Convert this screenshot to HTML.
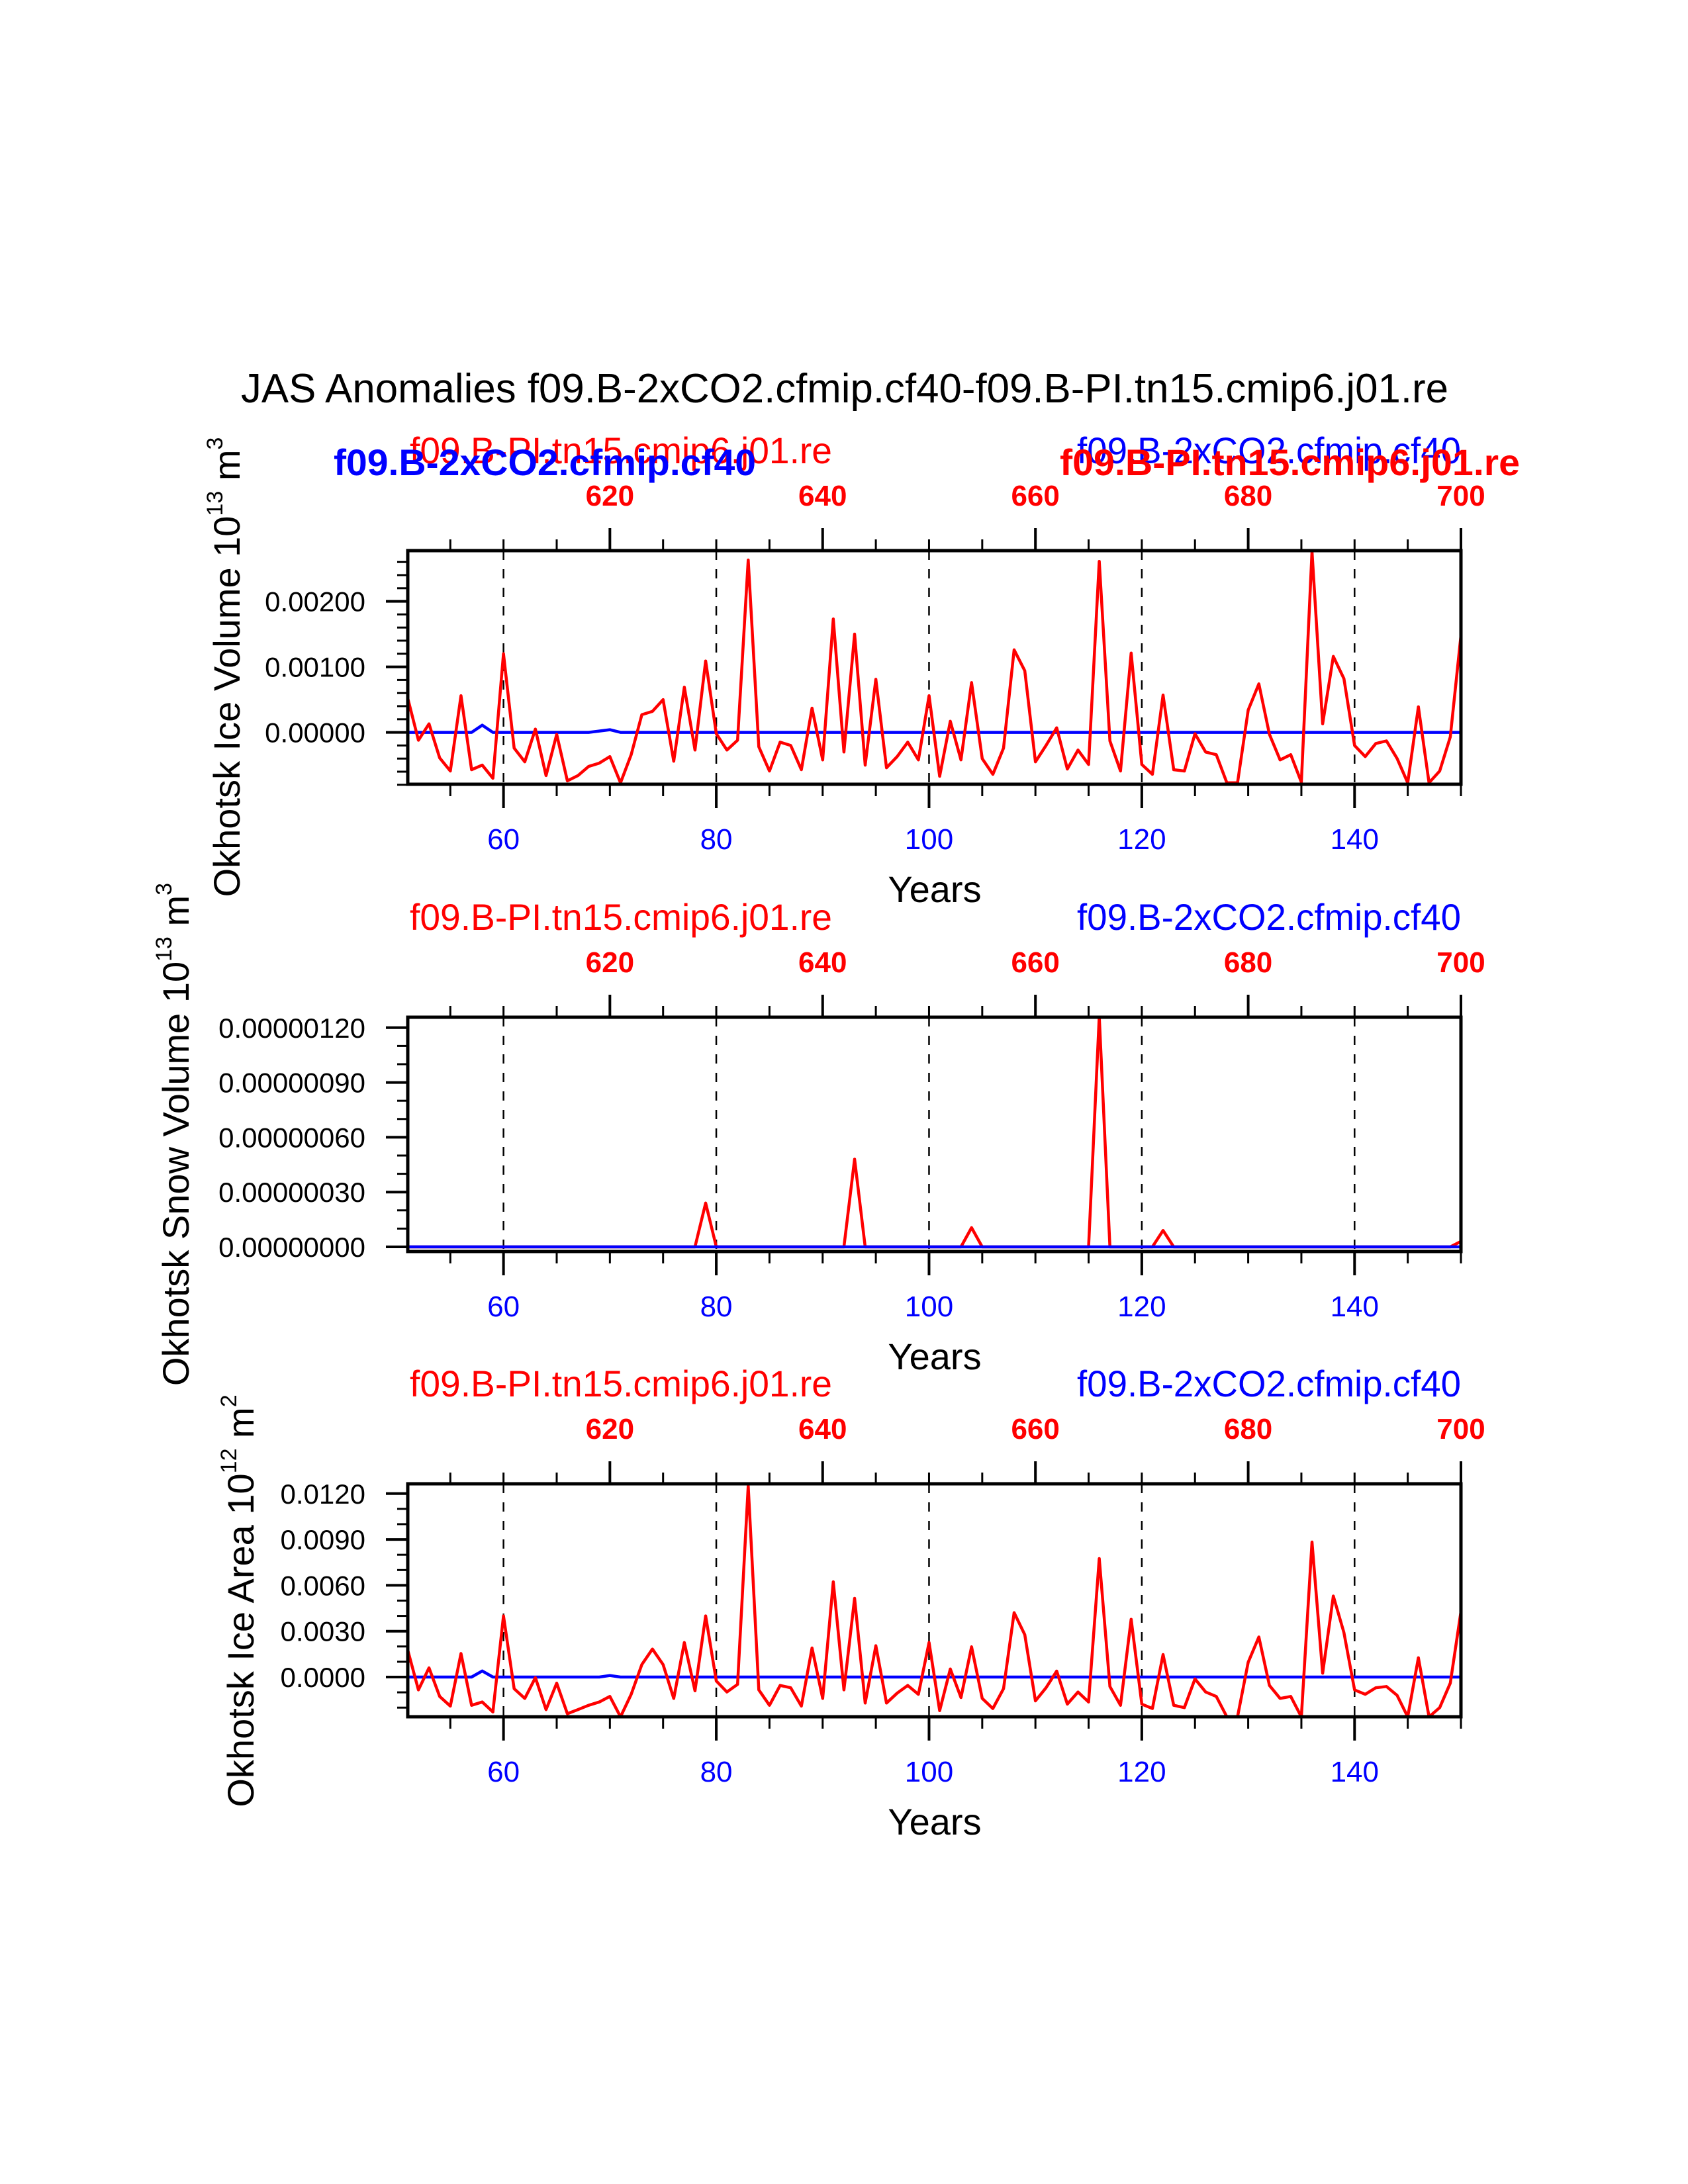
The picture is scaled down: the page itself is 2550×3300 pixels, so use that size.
<!DOCTYPE html>
<html><head><meta charset="utf-8"><style>
html,body{margin:0;padding:0;background:#fff;}
svg{display:block;}
text{font-family:"Liberation Sans",Arial,Helvetica,sans-serif;}
</style></head><body>
<svg id="s" xmlns="http://www.w3.org/2000/svg" width="2550" height="3300" viewBox="0 0 2550 3300">
<rect width="2550" height="3300" fill="#fff"/>
<text x="1276" y="608" font-size="62" text-anchor="middle" textLength="1824" lengthAdjust="spacingAndGlyphs">JAS Anomalies f09.B-2xCO2.cfmip.cf40-f09.B-PI.tn15.cmip6.j01.re</text>

<text x="619" y="700" font-size="56" fill="#f00" textLength="638" lengthAdjust="spacingAndGlyphs">f09.B-PI.tn15.cmip6.j01.re</text>
<text x="504" y="718" font-size="56" font-weight="bold" fill="#00f" textLength="638" lengthAdjust="spacingAndGlyphs">f09.B-2xCO2.cfmip.cf40</text>
<text x="2207" y="700" font-size="56" fill="#00f" text-anchor="end" textLength="580" lengthAdjust="spacingAndGlyphs">f09.B-2xCO2.cfmip.cf40</text>
<text x="1601" y="718" font-size="56" font-weight="bold" fill="#f00" textLength="695" lengthAdjust="spacingAndGlyphs">f09.B-PI.tn15.cmip6.j01.re</text>
<text x="619" y="1405" font-size="56" fill="#f00" textLength="638" lengthAdjust="spacingAndGlyphs">f09.B-PI.tn15.cmip6.j01.re</text>
<text x="2207" y="1405" font-size="56" fill="#00f" text-anchor="end" textLength="580" lengthAdjust="spacingAndGlyphs">f09.B-2xCO2.cfmip.cf40</text>
<text x="619" y="2110" font-size="56" fill="#f00" textLength="638" lengthAdjust="spacingAndGlyphs">f09.B-PI.tn15.cmip6.j01.re</text>
<text x="2207" y="2110" font-size="56" fill="#00f" text-anchor="end" textLength="580" lengthAdjust="spacingAndGlyphs">f09.B-2xCO2.cfmip.cf40</text>

<text transform="translate(362,1008) rotate(-90)" font-size="56" text-anchor="middle">Okhotsk Ice Volume 10<tspan font-size="34" dy="-26">13</tspan><tspan dy="26"> m</tspan><tspan font-size="34" dy="-26">3</tspan></text>
<text transform="translate(285,1714) rotate(-90)" font-size="56" text-anchor="middle">Okhotsk Snow Volume 10<tspan font-size="34" dy="-26">13</tspan><tspan dy="26"> m</tspan><tspan font-size="34" dy="-26">3</tspan></text>
<text transform="translate(383,2419) rotate(-90)" font-size="56" text-anchor="middle">Okhotsk Ice Area 10<tspan font-size="34" dy="-26">12</tspan><tspan dy="26"> m</tspan><tspan font-size="34" dy="-26">2</tspan></text>

<g id="g"></g>
</svg>
<script>
(function(){
var NS="http://www.w3.org/2000/svg",g=document.getElementById("g");
function el(t,a,txt){var e=document.createElementNS(NS,t);for(var k in a)e.setAttribute(k,a[k]);if(txt!==undefined)e.textContent=txt;g.appendChild(e);return e;}
var L=616,R=2207;function X(y){return L+(y-51)*(R-L)/99;}
var red1=[0.00052,-0.00012,0.00013,-0.00039,-0.00059,0.00056,-0.00057,-0.0005,-0.0007,0.0012,-0.00024,-0.00045,0.00005,-0.00066,-0.00003,-0.00074,-0.00066,-0.00052,-0.00047,-0.00037,-0.00077,-0.00034,0.00027,0.00032,0.0005,-0.00044,0.00069,-0.00027,0.00109,-0.00002,-0.00027,-0.00012,0.00263,-0.00022,-0.00059,-0.00015,-0.0002,-0.00057,0.00037,-0.00042,0.00173,-0.0003,0.0015,-0.0005,0.00081,-0.00054,-0.00037,-0.00015,-0.00042,0.00056,-0.00067,0.00017,-0.00042,0.00076,-0.0004,-0.00064,-0.00024,0.00126,0.00094,-0.00045,-0.0002,0.00007,-0.00056,-0.00027,-0.00049,0.00261,-0.00013,-0.00059,0.00121,-0.00049,-0.00064,0.00057,-0.00057,-0.00059,-0.00002,-0.0003,-0.00034,-0.00077,-0.00077,0.00034,0.00074,-0.00003,-0.00042,-0.00034,-0.00076,0.00276,0.00013,0.00116,0.00082,-0.0002,-0.00037,-0.00017,-0.00013,-0.0004,-0.00077,0.00039,-0.00077,-0.00059,-0.00007,0.00148];
var red3=[0.00176,-0.00084,0.0006,-0.00127,-0.0019,0.00154,-0.00185,-0.00163,-0.00228,0.004,-0.00076,-0.0014,-0.00004,-0.00213,-0.0004,-0.0024,-0.00213,-0.00185,-0.00163,-0.00127,-0.0026,-0.00113,0.00082,0.00183,0.00082,-0.0014,0.00226,-0.0009,0.004,-0.00026,-0.00098,-0.00048,0.0125,-0.00084,-0.00185,-0.00055,-0.0007,-0.0019,0.0019,-0.0014,0.00623,-0.00084,0.00515,-0.0017,0.00205,-0.0017,-0.00105,-0.00055,-0.00113,0.00226,-0.0022,0.00053,-0.00134,0.00198,-0.0014,-0.00206,-0.00076,0.00421,0.00277,-0.00156,-0.0007,0.00039,-0.00177,-0.00098,-0.00163,0.00775,-0.00062,-0.00185,0.00378,-0.00177,-0.00206,0.00147,-0.00185,-0.002,-0.00012,-0.00098,-0.00127,-0.0026,-0.0026,0.00097,0.00262,-0.00055,-0.0014,-0.00127,-0.0026,0.00883,0.00025,0.0053,0.00291,-0.00084,-0.00113,-0.0007,-0.00062,-0.0012,-0.0026,0.00126,-0.0026,-0.002,-0.0004,0.00428];
var red2=[];for(var i=0;i<100;i++)red2.push(0);
red2[79-51]=0.24e-6;red2[93-51]=0.48e-6;red2[104-51]=0.105e-6;red2[116-51]=1.26e-6;red2[122-51]=0.09e-6;red2[150-51]=0.03e-6;
var blue1=[],blue2=[],blue3=[];for(i=0;i<100;i++){blue1.push(0);blue2.push(0);blue3.push(0);}
blue1[58-51]=0.00011;blue1[69-51]=0.00002;blue1[70-51]=0.00004;
blue3[58-51]=0.0004;blue3[70-51]=0.0001;
var P=[
 {top:832,bot:1185,z:1106.6,k:99000,maj:[0,0.001,0.002],lab:["0.00000","0.00100","0.00200"],minStep:0.0002,minFrom:-0.0008,minTo:0.0028,red:red1,blue:blue1,blueTop:false},
 {top:1537,bot:1891,z:1884,k:82.8/0.3e-6,maj:[0,0.3e-6,0.6e-6,0.9e-6,1.2e-6],lab:["0.00000000","0.00000030","0.00000060","0.00000090","0.00000120"],minStep:0.1e-6,minFrom:0,minTo:1.25e-6,red:red2,blue:blue2,blueTop:true},
 {top:2242,bot:2594,z:2534,k:69.3/0.003,maj:[0,0.003,0.006,0.009,0.012],lab:["0.0000","0.0030","0.0060","0.0090","0.0120"],minStep:0.001,minFrom:-0.003,minTo:0.013,red:red3,blue:blue3,blueTop:false}
];
P.forEach(function(p,pi){
 var cp=el("clipPath",{id:"c"+pi});
 var r=document.createElementNS(NS,"rect");r.setAttribute("x",L);r.setAttribute("y",p.top);r.setAttribute("width",R-L);r.setAttribute("height",p.bot-p.top);cp.appendChild(r);
 [60,80,100,120,140].forEach(function(yv){el("line",{x1:X(yv),x2:X(yv),y1:p.top,y2:p.bot,stroke:"#000","stroke-width":2.5,"stroke-dasharray":"14,14"});});
 function pl(arr,col){var pts=[];for(var i=0;i<arr.length;i++)pts.push(X(51+i).toFixed(1)+","+(p.z-arr[i]*p.k).toFixed(1));
  el("polyline",{points:pts.join(" "),fill:"none",stroke:col,"stroke-width":4.5,"stroke-linejoin":"round","clip-path":"url(#c"+pi+")"});}
 if(p.blueTop){pl(p.red,"#f00");pl(p.blue,"#00f");}else{pl(p.blue,"#00f");pl(p.red,"#f00");}
 el("rect",{x:L,y:p.top,width:R-L,height:p.bot-p.top,fill:"none",stroke:"#000","stroke-width":5});
 for(var yv=55;yv<=150;yv+=5){
  var x=X(yv);
  var bmaj=(yv%20==0&&yv<=140);
  el("line",{x1:x,x2:x,y1:p.bot,y2:p.bot+(bmaj?36:18),stroke:"#000","stroke-width":bmaj?4:3});
  var tmaj=((yv-70)%20==0&&yv>=70);
  el("line",{x1:x,x2:x,y1:p.top,y2:p.top-(tmaj?34:17),stroke:"#000","stroke-width":tmaj?4:3});
  if(bmaj)el("text",{x:x,y:p.bot+98,"font-size":44,fill:"#00f","text-anchor":"middle"},String(yv));
  if(tmaj)el("text",{x:x,y:p.top-68,"font-size":44,"font-weight":"bold",fill:"#f00","text-anchor":"middle"},String(yv+550));
 }
 el("text",{x:1412,y:p.bot+178,"font-size":56,"text-anchor":"middle"},"Years");
 for(var v=p.minFrom;v<=p.minTo+1e-12;v+=p.minStep){var yy=p.z-v*p.k;if(yy<p.top-1||yy>p.bot+1)continue;
  el("line",{x1:L-16,x2:L,y1:yy,y2:yy,stroke:"#000","stroke-width":3});}
 p.maj.forEach(function(v,j){var yy=p.z-v*p.k;
  el("line",{x1:L-33,x2:L,y1:yy,y2:yy,stroke:"#000","stroke-width":4});
  el("text",{x:552,y:yy+15,"font-size":42,"text-anchor":"end"},p.lab[j]);});
});
})();
</script>
</body></html>
